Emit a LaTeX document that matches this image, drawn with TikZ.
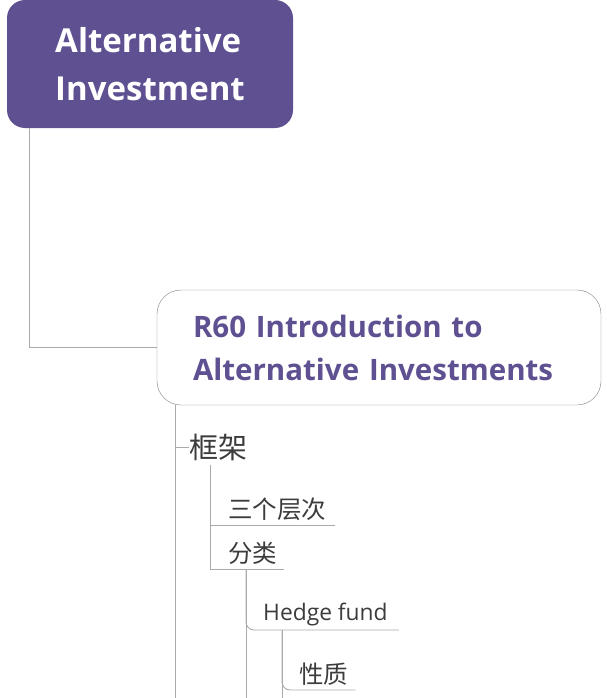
\documentclass[tikz,border=0pt]{standalone}
\usepackage{fontspec}
\setmainfont{Open Sans}
\newfontfamily\cjk{Noto Sans CJK SC}
\usepackage{tikz}
\definecolor{rootpurple}{RGB}{95,80,145}
\definecolor{linegray}{RGB}{170,170,170}
\definecolor{textgray}{RGB}{60,60,60}

\begin{document}
\begin{tikzpicture}[x=1pt,y=-1pt,
	conn/.style={draw=linegray,line width=0.9pt},
	rootbox/.style={rectangle,rounded corners=18pt,fill=rootpurple,text=white,align=left,
		minimum width=286pt,minimum height=128pt,font=\fontsize{33}{48}\selectfont\bfseries},
	mainbox/.style={rectangle,rounded corners=24pt,draw=gray,fill=white,text=rootpurple,align=left,
		inner xsep=36pt,text width=372pt,minimum height=115pt,font=\fontsize{29.5}{43}\selectfont\bfseries},
	topic/.style={anchor=west,inner xsep=0pt,inner ysep=4pt,text=textgray,font=\cjk\fontsize{29}{32}\selectfont},
	leaf/.style={anchor=south west,inner xsep=0pt,inner ysep=4pt,text=textgray,font=\cjk\fontsize{24.5}{28}\selectfont},
	]
	\useasboundingbox (0,0) rectangle (606,698);

	\node[rootbox] (root) at (150,64) {Alternative\\Investment};
	\node[mainbox] (r60) at (379,347.5) {R60 Introduction to\\Alternative Investments};

	\node[topic] (kj) at (189,447) {框架};
	\node[leaf] (sgcc) at (228,525) {三个层次};
	\node[leaf] (fl) at (228,569) {分类};
	\node[leaf,font=\fontsize{22.8}{26}\selectfont] (hf) at (263,630) {Hedge fund};
	\node[leaf] (xz) at (299,690) {性质};

	\coordinate (end1) at (175,698);
	\coordinate (kjx) at (210,0);
	\coordinate (end2) at (246,698);
	\coordinate (end3) at (282,698);

	\draw[conn] ([xshift=23pt]root.south west) |- (r60.west);
	\draw[conn] (r60.south -| end1) -- (end1);
	\draw[conn] (kj.west -| end1) -- (kj.west);
	\draw[conn] (kj.south -| kjx) |- ([xshift=9pt]sgcc.south east);
	\draw[conn] (kj.south -| kjx) |- ([xshift=7pt]fl.south east);
	\draw[conn] (fl.south -| end2) -- (end2);
	\draw[conn,rounded corners=8pt] (fl.south -| end2) |- ([xshift=11pt]hf.south east);
	\draw[conn] (hf.south -| end3) -- (end3);
	\draw[conn,rounded corners=8pt] (hf.south -| end3) |- ([xshift=7pt]xz.south east);
\end{tikzpicture}
\end{document}
